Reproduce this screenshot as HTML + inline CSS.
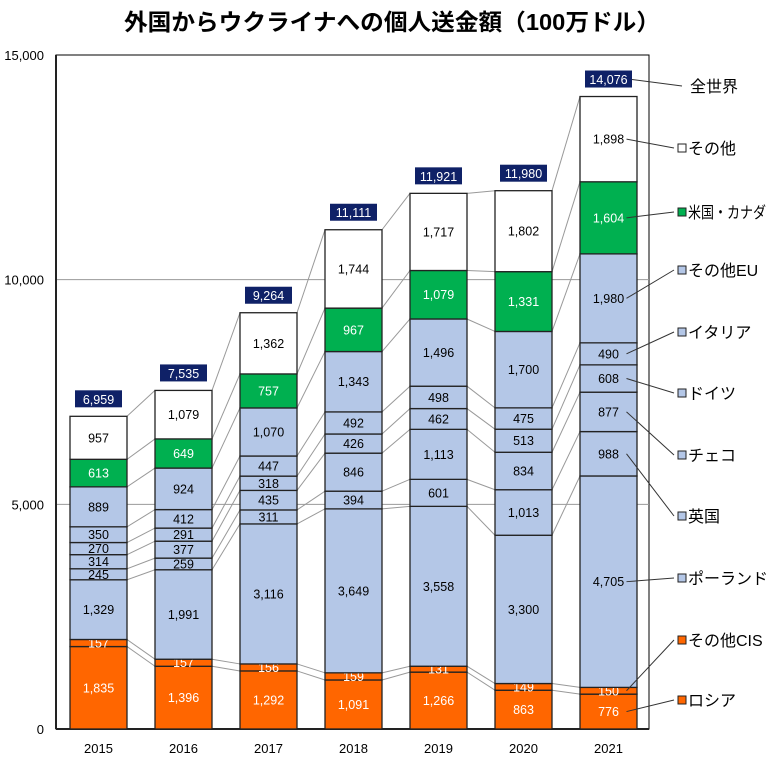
<!DOCTYPE html>
<html><head><meta charset="utf-8"><style>
body{margin:0;background:#fff}
svg{font-family:"Liberation Sans","Noto Sans CJK JP",sans-serif}
</style></head><body>
<svg id="c" width="780" height="767" viewBox="0 0 780 767" xmlns="http://www.w3.org/2000/svg">
<text x="392" y="30" font-size="23" font-weight="bold" text-anchor="middle" textLength="536" lengthAdjust="spacingAndGlyphs">外国からウクライナへの個人送金額（100万ドル）</text>
</svg>
<script>
const years=['2015','2016','2017','2018','2019','2020','2021'];
const seriesNames=['ロシア','その他CIS','ポーランド','英国','チェコ','ドイツ','イタリア','その他EU','米国・カナダ','その他'];
const russia=[1835,1396,1292,1091,1266,863,776];
const otherCIS=[157,157,156,159,131,149,150];
const poland=[1329,1991,3116,3649,3558,3300,4705];
const uk=[245,259,311,394,601,1013,988];
const czech=[314,377,435,846,1113,834,877];
const germany=[270,291,318,426,462,513,608];
const italy=[350,412,447,492,498,475,490];
const otherEU=[889,924,1070,1343,1496,1700,1980];
const usCanada=[613,649,757,967,1079,1331,1604];
const other=[957,1079,1362,1744,1717,1802,1898];
const totals=[6959,7535,9264,11111,11921,11980,14076];
const yTicks=[0,5000,10000,15000];
const series=[russia,otherCIS,poland,uk,czech,germany,italy,otherEU,usCanada,other];
const colors=['#FF6600','#FF6600','#B4C7E7','#B4C7E7','#B4C7E7','#B4C7E7','#B4C7E7','#B4C7E7','#00B050','#FFFFFF'];
const txtCol=['#fff','#fff','#000','#000','#000','#000','#000','#000','#fff','#000'];
const legendY=[700,640,578,516,455,393,332,270,212,148];
const NS='http://www.w3.org/2000/svg';
const svg=document.getElementById('c');
const L=56,R=649,T=55,B=729,YMAX=15000;
const y=v=>B-(v/YMAX)*(B-T);
const bw=57,x0=70,step=85;
const bx=i=>x0+i*step;
function mk(t,a,p){const e=document.createElementNS(NS,t);for(const k in a)e.setAttribute(k,a[k]);(p||svg).appendChild(e);return e;}
function fmt(v){return v.toLocaleString('en-US');}
mk('rect',{x:L,y:T,width:R-L,height:B-T,fill:'none',stroke:'#000','stroke-width':1});
yTicks.forEach(t=>{
  if(t>0&&t<YMAX){const g=mk('line',{x1:L,x2:R,y1:y(t),y2:y(t),stroke:'#999','stroke-width':1});
  }
  const tx=mk('text',{x:44,y:y(t)+5,'font-size':13,'text-anchor':'end'});tx.textContent=fmt(t);
  
});
const ax=mk('line',{x1:L,x2:L,y1:T,y2:B,stroke:'#222','stroke-width':2});
const ax2=mk('line',{x1:L,x2:R,y1:B,y2:B,stroke:'#222','stroke-width':2});
for(let i=0;i<years.length-1;i++){
  let c1=0,c2=0;
  for(let s=0;s<series.length;s++){
    c1+=series[s][i];c2+=series[s][i+1];
    const ln=mk('line',{x1:bx(i)+bw,y1:y(c1),x2:bx(i+1),y2:y(c2),stroke:'#999','stroke-width':1});
    
  }
}
const labelPos=[];
years.forEach((yr,i)=>{
  let cum=0;
  series.forEach((arr,s)=>{
    const v=arr[i];const y1=y(cum+v),y0=y(cum);
    const r=mk('rect',{x:bx(i),y:y1,width:bw,height:y0-y1,fill:colors[s],stroke:'#222','stroke-width':1.3});
    
    
    const ty=(y0+y1)/2+4.5;
    const t=mk('text',{x:bx(i)+bw/2,y:ty,'font-size':12.5,'text-anchor':'middle',fill:txtCol[s]});
    t.textContent=fmt(v);
    
    
    if(i===years.length-1)labelPos[s]=(y0+y1)/2;
    cum+=v;
  });
  const ty=y(totals[i])-17;
  const bxr=mk('rect',{x:bx(i)+5,y:ty-9,width:47,height:17,fill:'#0F2167'});
  
  const tt=mk('text',{x:bx(i)+bw/2,y:ty+4.5,'font-size':12.5,'text-anchor':'middle',fill:'#fff'});tt.textContent=fmt(totals[i]);
  
  const xl=mk('text',{x:bx(i)+bw/2,y:753,'font-size':13,'text-anchor':'middle'});xl.textContent=yr;
  
});
const last=years.length-1;
series.forEach((arr,s)=>{
  const ly=legendY[s];
  const ln=mk('line',{x1:bx(last)+bw/2+18,y1:labelPos[s],x2:674,y2:ly,stroke:'#333','stroke-width':1});
  
  const sq=mk('rect',{x:678,y:ly-4,width:8,height:8,fill:colors[s],stroke:'#222','stroke-width':1});
  
  const t=mk('text',{x:688,y:ly+6,'font-size':16});t.textContent=seriesNames[s];
  if(s===8){t.setAttribute('textLength','78');t.setAttribute('lengthAdjust','spacingAndGlyphs');}
  
});
const tl=mk('line',{x1:bx(last)+52,y1:y(totals[last])-17,x2:682,y2:86,stroke:'#333','stroke-width':1});

const tw=mk('text',{x:690,y:92,'font-size':16});tw.textContent='全世界';

</script>
</body></html>
